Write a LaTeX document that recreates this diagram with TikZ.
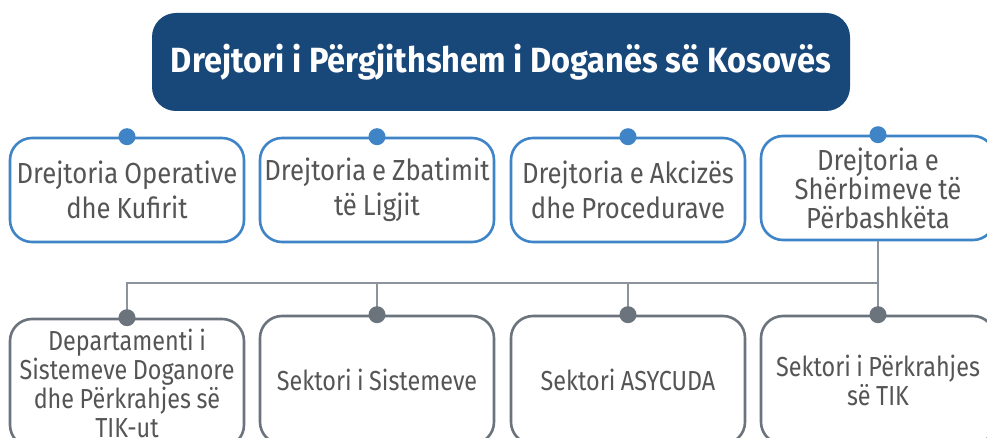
\documentclass[tikz,border=0pt]{standalone}
\usepackage{fontspec}
\setmainfont{Fira Sans}[FakeStretch=0.885]
\newfontfamily\titlefont{Fira Sans}[FakeStretch=0.93]
\newfontfamily\lowfont{Fira Sans}[FakeStretch=0.85]
\definecolor{navy}{HTML}{18477A}
\definecolor{bluel}{HTML}{3F84C6}
\definecolor{grayb}{HTML}{6B737D}
\definecolor{grayl}{HTML}{8D939A}
\definecolor{txt}{HTML}{555555}
\newcommand\topfont[1]{\fontsize{29}{#1}\selectfont\spaceskip=6pt\relax}
\newcommand\botfont{\lowfont\fontsize{27.5}{29}\selectfont\spaceskip=5.5pt\relax}
\tikzset{
  titlebox/.style={fill=navy, rounded corners=24pt, minimum width=698pt, minimum height=98pt,
    text=white, font=\titlefont\bfseries\fontsize{35}{40}\selectfont, inner sep=0pt},
  bluebox/.style={draw=bluel, line width=2.6pt, fill=white, rounded corners=22pt,
    minimum width=234pt, minimum height=104pt, text width=232pt, align=flush center,
    text=txt, inner sep=0pt},
  graybox/.style={draw=grayb, line width=2.6pt, fill=white, rounded corners=22pt,
    minimum width=234pt, minimum height=128pt, text width=232pt, align=flush center,
    text=txt, inner sep=0pt},
  conn/.style={draw=grayl, line width=1.6pt},
  bdot/.style={fill=bluel},
  gdot/.style={fill=grayb}
}
\begin{document}
\begin{tikzpicture}[x=1pt,y=-1pt]
\useasboundingbox (0,0) rectangle (987,438);
\clip (0,0) rectangle (987,438);
\fill[white] (0,0) rectangle (987,438);
\node[titlebox] (top) at (501,62) {Drejtori i Përgjithshem i Doganës së Kosovës};
\node[bluebox, font=\topfont{35}] (d1) at (127,190) {Drejtoria Operative\\dhe Kufirit};
\node[bluebox, font=\topfont{35}] (d2) at (377,190) {Drejtoria e Zbatimit\\të Ligjit};
\node[bluebox, font=\topfont{35}] (d3) at (628,190) {Drejtoria e Akcizës\\dhe Procedurave};
\node[bluebox, font=\topfont{29}] (d4) at (878,188) {Drejtoria e\\Shërbimeve të\\Përbashkëta};
\node[graybox, font=\botfont] (s1) at (127,383) {Departamenti i\\Sistemeve Doganore\\dhe Përkrahjes së\\TIK-ut};
\node[graybox, font=\botfont] (s2) at (377,380) {Sektori i Sistemeve};
\node[graybox, font=\botfont] (s3) at (628,380) {Sektori ASYCUDA};
\node[graybox, font=\botfont] (s4) at (878,380) {Sektori i Përkrahjes\\së TIK};
\coordinate (j) at (878,283);
\draw[conn] (d4.south) -- (j);
\draw[conn] (j) -| (s1.north);
\draw[conn] (j) -| (s2.north);
\draw[conn] (j) -| (s3.north);
\draw[conn] (j) -- (s4.north);
\foreach \n in {d1,d2,d3,d4} \fill[bdot] (\n.north) circle (8.5pt);
\foreach \n in {s1,s2,s3,s4} \fill[gdot] (\n.north) circle (8.5pt);
\end{tikzpicture}
\end{document}
